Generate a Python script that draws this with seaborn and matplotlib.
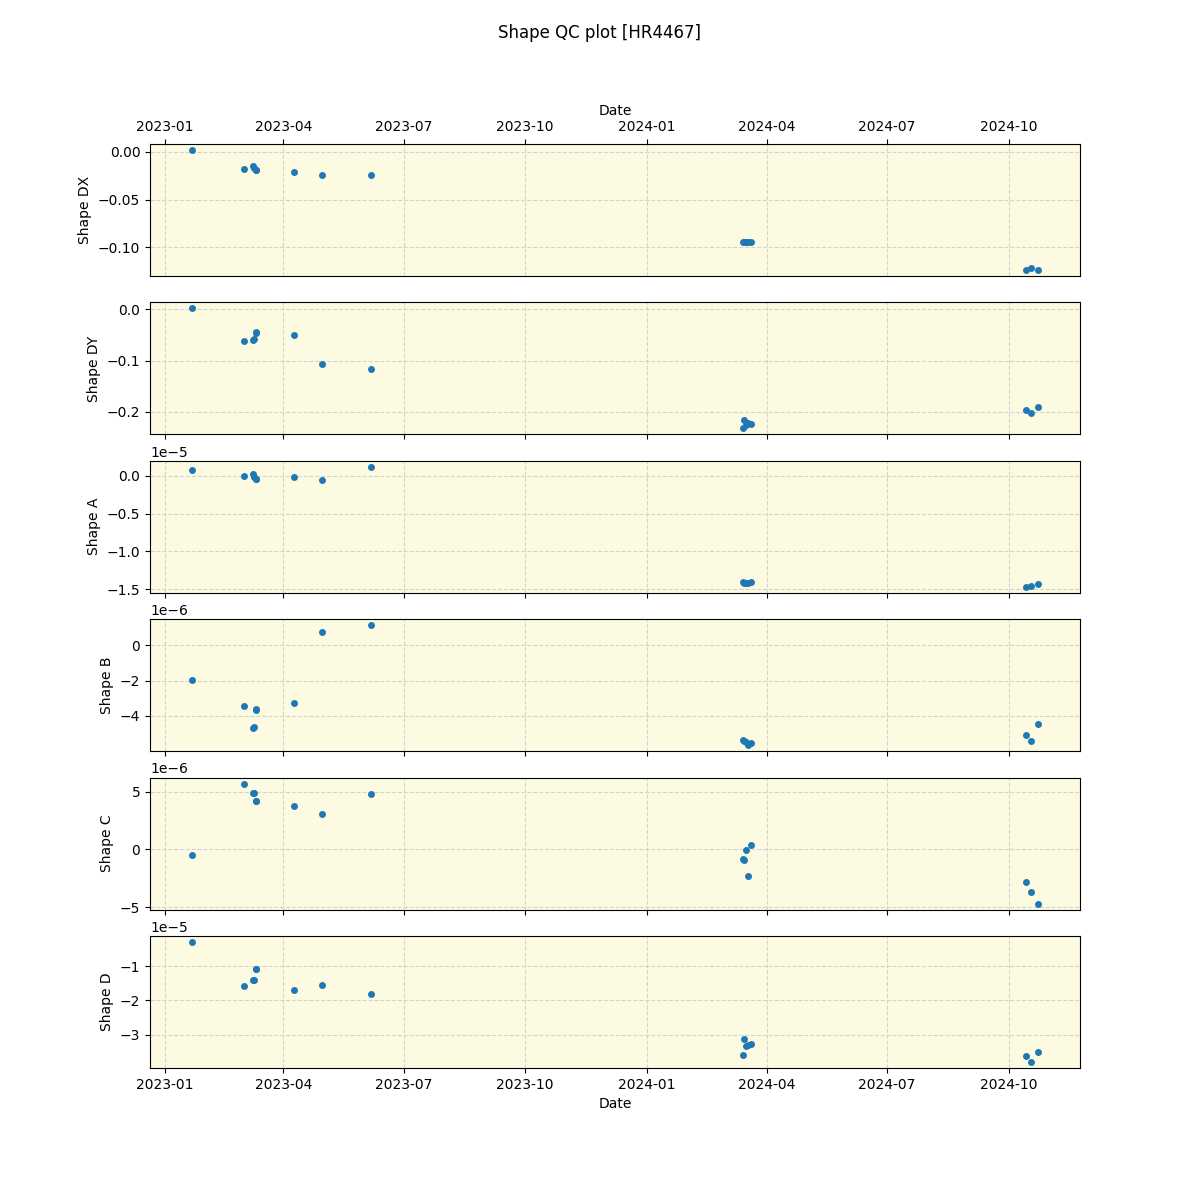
import numpy as np
import pandas as pd
import matplotlib
matplotlib.use("Agg")
import matplotlib.pyplot as plt
import matplotlib.dates as mdates
import seaborn as sns

dates = [
    "2023-01-22", "2023-03-02", "2023-03-09", "2023-03-10", "2023-03-11", "2023-03-11",
    "2023-04-09", "2023-04-30", "2023-06-06",
    "2024-03-14", "2024-03-15", "2024-03-16", "2024-03-18", "2024-03-20",
    "2024-10-14", "2024-10-18", "2024-10-23",
]

shape_dx = [0.002, -0.018, -0.015, -0.017, -0.019, -0.019,
            -0.021, -0.024, -0.024,
            -0.095, -0.095, -0.095, -0.095, -0.095,
            -0.124, -0.122, -0.124]

shape_dy = [0.002, -0.062, -0.059, -0.057, -0.045, -0.044,
            -0.050, -0.107, -0.116,
            -0.232, -0.215, -0.225, -0.222, -0.224,
            -0.197, -0.201, -0.191]

shape_a = [0.075e-5, 0.0, 0.02e-5, -0.02e-5, -0.045e-5, -0.045e-5,
           -0.02e-5, -0.06e-5, 0.12e-5,
           -1.41e-5, -1.415e-5, -1.42e-5, -1.42e-5, -1.41e-5,
           -1.47e-5, -1.46e-5, -1.43e-5]

shape_b = [-1.97e-6, -3.44e-6, -4.68e-6, -4.65e-6, -3.66e-6, -3.63e-6,
           -3.27e-6, 0.73e-6, 1.13e-6,
           -5.35e-6, -5.40e-6, -5.49e-6, -5.66e-6, -5.53e-6,
           -5.07e-6, -5.41e-6, -4.45e-6]

shape_c = [-0.46e-6, 5.69e-6, 4.91e-6, 4.88e-6, 4.22e-6, 4.20e-6,
           3.78e-6, 3.09e-6, 4.82e-6,
           -0.87e-6, -0.90e-6, -0.03e-6, -2.28e-6, 0.41e-6,
           -2.79e-6, -3.66e-6, -4.70e-6]

shape_d = [-0.30e-5, -1.58e-5, -1.41e-5, -1.40e-5, -1.09e-5, -1.08e-5,
           -1.70e-5, -1.55e-5, -1.82e-5,
           -3.58e-5, -3.12e-5, -3.32e-5, -3.31e-5, -3.26e-5,
           -3.61e-5, -3.79e-5, -3.50e-5]

labels = ["Shape DX", "Shape DY", "Shape A", "Shape B", "Shape C", "Shape D"]
series = [shape_dx, shape_dy, shape_a, shape_b, shape_c, shape_d]

df = pd.DataFrame({"Date": pd.to_datetime(dates)})
for lab, vals in zip(labels, series):
    df[lab] = vals

fig, axes = plt.subplots(6, 1, figsize=(12, 12), dpi=100, sharex=True)
fig.suptitle("Shape QC plot [HR4467]", fontsize=12)

for i, (ax, lab) in enumerate(zip(axes, labels)):
    ax.set_facecolor("#fcfbe1")
    sns.scatterplot(data=df, x="Date", y=lab, ax=ax, s=25, linewidth=0,
                    color="#1f77b4", zorder=3)
    ax.grid(True, linestyle="--", color="#d3d3d3", linewidth=0.8)
    ax.set_axisbelow(True)
    ax.set_ylabel(lab)
    ax.xaxis.set_major_locator(mdates.MonthLocator(bymonth=[1, 4, 7, 10]))
    ax.xaxis.set_major_formatter(mdates.DateFormatter("%Y-%m"))
    if i == 0:
        ax.xaxis.tick_top()
        ax.xaxis.set_label_position("top")
        ax.tick_params(axis="x", labeltop=True)
        ax.set_xlabel("Date")
        ax.xaxis.label.set_visible(True)
    elif i == len(axes) - 1:
        ax.set_xlabel("Date")
    else:
        ax.set_xlabel("")

fig.savefig("out.png", dpi=100)
